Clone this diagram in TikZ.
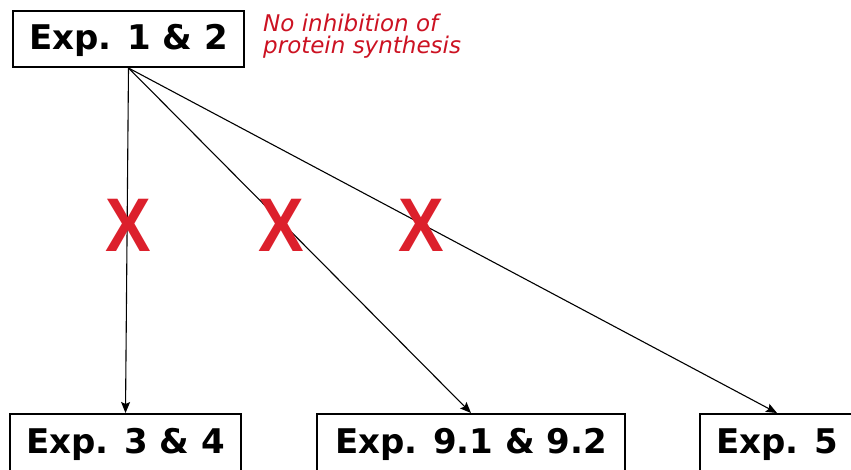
\documentclass[tikz,border=0pt]{standalone}
\usepackage{fontspec}
\usetikzlibrary{arrows.meta}
\newfontfamily\verdfont{DejaVu Sans}
\newfontfamily\crossfont{Liberation Sans}
\definecolor{xred}{RGB}{220,32,44}
\definecolor{notered}{RGB}{204,18,34}
\tikzset{
  expbox/.style={draw, line width=2pt, inner xsep=0pt, inner ysep=0pt,
    font=\verdfont\bfseries\fontsize{34}{34}\selectfont,
    minimum height=56pt, text height=25pt, text depth=3pt},
  expnote/.style={font=\verdfont\itshape\fontsize{23}{22}\selectfont,
    text=notered, align=left, inner sep=0pt},
  cross/.style={font=\crossfont\bfseries\fontsize{76}{76}\selectfont,
    text=xred, inner sep=0pt, xscale=0.9},
  exparr/.style={-{Stealth[length=11pt,width=9pt,inset=2pt]}, line width=1.1pt},
}
\begin{document}
\begin{tikzpicture}[x=1pt, y=-1pt]
  \useasboundingbox (0,0) rectangle (851,470);
  % ---- top box and note ----
  \node[expbox, minimum width=231pt] at (128.5,39) (E12) {Exp. 1 \& 2};
  \node[expnote, anchor=base west] at (263,54) (note) {No inhibition of\\protein synthesis};

  % ---- bottom boxes (cut by the lower edge) ----
  \node[expbox, minimum width=231pt, minimum height=64pt, text depth=11pt] at (125.5,446) (E34) {Exp. 3 \& 4};
  \node[expbox, minimum width=308pt, minimum height=64pt, text depth=11pt] at (471,446)   (E91) {Exp. 9.1 \& 9.2};
  \node[expbox, minimum width=154pt, minimum height=64pt, text depth=11pt] at (777,446)   (E5)  {Exp. 5};

  % ---- edges ----
  \draw[exparr] (E12.south) -- (E34.north);
  \draw[exparr] (E12.south) -- (E91.north);
  \draw[exparr] (E12.south) -- (E5.north);

  % ---- crosses ----
  \node[cross] at (128,225) (x1) {X};
  \node[cross] at (281,225) (x2) {X};
  \node[cross] at (421,225) (x3) {X};
\end{tikzpicture}
\end{document}
